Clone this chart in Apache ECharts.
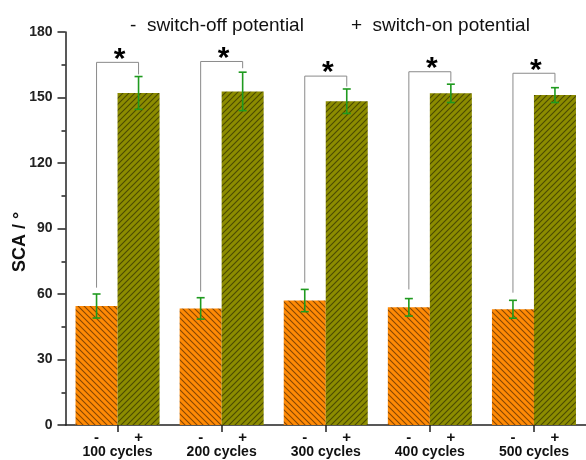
<!DOCTYPE html>
<html>
<head>
<meta charset="utf-8">
<script src="https://cdn.jsdelivr.net/npm/echarts@6/dist/echarts.min.js"></script>
<style>
html,body{margin:0;padding:0;background:#fff;}
#chart{width:586px;height:460px;}
</style>
</head>
<body>
<div id="chart"></div>
<script>
// ---- data ----
var categories = ['100 cycles', '200 cycles', '300 cycles', '400 cycles', '500 cycles'];
var offMean = [54.5, 53.4, 57.0, 53.9, 53.0];
var offErr  = [5.5, 4.9, 5.1, 4.0, 4.1];
var onMean  = [152.1, 152.8, 148.3, 151.9, 151.1];
var onErr   = [7.5, 8.8, 5.6, 4.2, 3.4];
var bracketLeft  = [62.9, 61.1, 65.2, 62.1, 60.6];
var bracketRight = [160.6, 163.4, 155.0, 157.2, 156.8];
var bracketTop   = [166.1, 166.5, 159.8, 161.8, 161.1];
var yTicks = [0, 30, 60, 90, 120, 150, 180];
var seriesNames = ['-  switch-off potential', '+  switch-on potential'];

// ---- styles ----
var BAR_W = 42;
function hatch(base, line, dir) {
  var s = 6;
  var c = document.createElement('canvas');
  c.width = s; c.height = s;
  var g = c.getContext('2d');
  g.fillStyle = base; g.fillRect(0, 0, s, s);
  g.strokeStyle = line;
  g.lineWidth = 1.1;
  g.beginPath();
  if (dir === '/') {
    g.moveTo(-1, s + 1); g.lineTo(s + 1, -1);
    g.moveTo(-1, 1); g.lineTo(1, -1);
    g.moveTo(s - 1, s + 1); g.lineTo(s + 1, s - 1);
  } else {
    g.moveTo(-1, -1); g.lineTo(s + 1, s + 1);
    g.moveTo(-1, s - 1); g.lineTo(1, s + 1);
    g.moveTo(s - 1, -1); g.lineTo(s + 1, 1);
  }
  g.stroke();
  return c;
}
var orangeFill = { image: hatch('#ff8a05', 'rgba(70,35,0,0.65)', '\\'), repeat: 'repeat' };
var oliveFill = { image: hatch('#8c8c00', 'rgba(30,30,0,0.6)', '/'), repeat: 'repeat' };

function errRender(sign) {
  return function (params, api) {
    var cx = api.coord([api.value(0), 0])[0] + sign * BAR_W / 2;
    var m = api.value(1), e = api.value(2);
    var yh = api.coord([api.value(0), m + e])[1];
    var yl = api.coord([api.value(0), m - e])[1];
    var st = { stroke: '#1f9a1f', lineWidth: 1.6 };
    return { type: 'group', children: [
      { type: 'line', shape: { x1: cx, y1: yh, x2: cx, y2: yl }, style: st },
      { type: 'line', shape: { x1: cx - 4, y1: yh, x2: cx + 4, y2: yh }, style: st },
      { type: 'line', shape: { x1: cx - 4, y1: yl, x2: cx + 4, y2: yl }, style: st }
    ]};
  };
}
function bracketRender(params, api) {
  var i = api.value(0);
  var c = api.coord([i, 0])[0];
  var xl = c - BAR_W / 2, xr = c + BAR_W / 2;
  var yl = api.coord([i, api.value(1)])[1];
  var yr = api.coord([i, api.value(2)])[1];
  var yt = api.coord([i, api.value(3)])[1];
  return { type: 'group', children: [
    { type: 'polyline', shape: { points: [[xl, yl], [xl, yt], [xr, yt], [xr, yr]] },
      style: { stroke: '#8a8a8a', lineWidth: 1, fill: null } },
    { type: 'text', x: c + 2, y: yt + 12,
      style: { text: '*', fontSize: 30, fontWeight: 'bold', fontFamily: 'Arial, Liberation Sans',
        fill: '#000', textAlign: 'center', textVerticalAlign: 'bottom' } }
  ]};
}

var chart = echarts.init(document.getElementById('chart'));
chart.setOption({
  animation: false,
  backgroundColor: '#fff',
  textStyle: { fontFamily: 'Arial, Liberation Sans, sans-serif' },
  legend: {
    data: seriesNames,
    icon: 'none', itemWidth: 0, itemHeight: 14, itemGap: 42,
    left: 120, top: 11,
    textStyle: { fontSize: 19, color: '#111' },
    selectedMode: false
  },
  graphic: [{
    type: 'text', x: 20, y: 242, rotation: Math.PI / 2,
    style: { text: 'SCA / °', fontSize: 18, fontWeight: 'bold', fill: '#111',
      fontFamily: 'Arial, Liberation Sans', textAlign: 'center', textVerticalAlign: 'middle' }
  }],
  grid: { left: 65.5, right: -4.5, top: 32, bottom: 35, containLabel: false },
  xAxis: {
    type: 'category', data: categories,
    axisLine: { lineStyle: { color: '#222', width: 1.5 } },
    axisTick: { show: true, alignWithLabel: true, length: 7, lineStyle: { color: '#222', width: 1.5 } },
    axisLabel: {
      interval: 0, margin: 5,
      formatter: function (v) { return '{m|-}{p|+}\n{c|' + v + '}'; },
      rich: {
        m: { width: BAR_W, align: 'center', fontSize: 15, fontWeight: 'bold', color: '#111', lineHeight: 15 },
        p: { width: BAR_W, align: 'center', fontSize: 15, fontWeight: 'bold', color: '#111', lineHeight: 15 },
        c: { fontSize: 14, fontWeight: 'bold', color: '#111', lineHeight: 15 }
      }
    }
  },
  yAxis: {
    type: 'value', min: yTicks[0], max: yTicks[yTicks.length - 1], interval: 30,
    axisLine: { show: true, lineStyle: { color: '#222', width: 1.5 } },
    axisTick: { show: true, inside: false, length: 8, lineStyle: { color: '#222', width: 1.5 } },
    minorTick: { show: true, splitNumber: 2, length: 4, lineStyle: { color: '#222', width: 1.5 } },
    splitLine: { show: false },
    axisLabel: { margin: 13, fontSize: 14, fontWeight: 'bold', color: '#222' }
  },
  series: [
    { name: seriesNames[0], type: 'bar', data: offMean, barWidth: BAR_W, barGap: '0%',
      itemStyle: { color: orangeFill }, z: 2 },
    { name: seriesNames[1], type: 'bar', data: onMean, barWidth: BAR_W, barGap: '0%',
      itemStyle: { color: oliveFill }, z: 2 },
    { type: 'custom', renderItem: errRender(-1), encode: { x: 0, y: 1 }, z: 5,
      data: offMean.map(function (v, i) { return [i, v, offErr[i]]; }) },
    { type: 'custom', renderItem: errRender(1), encode: { x: 0, y: 1 }, z: 5,
      data: onMean.map(function (v, i) { return [i, v, onErr[i]]; }) },
    { type: 'custom', renderItem: bracketRender, encode: { x: 0, y: 3 }, z: 6,
      data: bracketTop.map(function (v, i) { return [i, bracketLeft[i], bracketRight[i], v]; }) }
  ]
});
</script>
</body>
</html>
